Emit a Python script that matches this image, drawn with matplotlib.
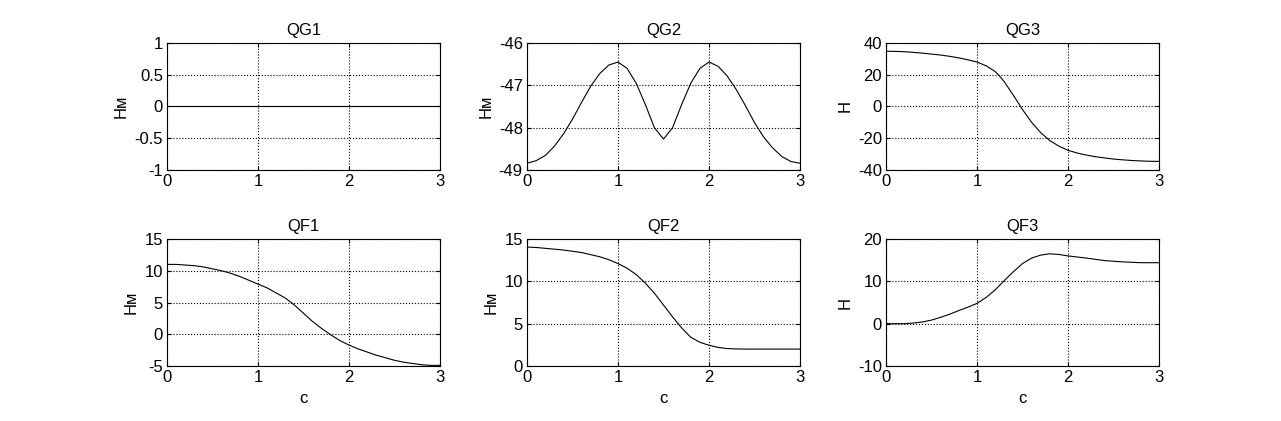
import numpy as np
import matplotlib.pyplot as plt

plt.rcParams['font.family'] = ['Liberation Sans', 'DejaVu Sans']
plt.rcParams['font.size'] = 12
plt.rcParams['axes.unicode_minus'] = False

# время, с
t_g1 = [0, 3]
qg1 = [0, 0]

t_g2 = [0.0, 0.1, 0.2, 0.3, 0.4, 0.5, 0.6, 0.7, 0.8, 0.9, 1.0, 1.1, 1.2, 1.3, 1.4, 1.5,
        1.6, 1.7, 1.8, 1.9, 2.0, 2.1, 2.2, 2.3, 2.4, 2.5, 2.6, 2.7, 2.8, 2.9, 3.0]
qg2 = [-48.84, -48.78, -48.66, -48.44, -48.15, -47.80, -47.40, -47.02, -46.72, -46.52,
       -46.45, -46.60, -46.95, -47.45, -48.00, -48.27, -48.00, -47.45, -46.95, -46.60,
       -46.45, -46.55, -46.78, -47.10, -47.48, -47.88, -48.22, -48.48, -48.68, -48.80, -48.84]

t_g3 = [0.0, 0.1, 0.2, 0.3, 0.4, 0.5, 0.6, 0.7, 0.8, 0.9, 1.0, 1.1, 1.2, 1.25, 1.3, 1.4,
        1.5, 1.6, 1.7, 1.8, 1.9, 2.0, 2.1, 2.2, 2.3, 2.4, 2.5, 2.6, 2.7, 2.8, 2.9, 3.0]
qg3 = [34.8, 34.7, 34.5, 34.1, 33.6, 33.0, 32.4, 31.6, 30.6, 29.4, 28.0, 25.6, 22.0,
       19.0, 15.5, 7.0, -2.0, -10.0, -16.5, -21.5, -25.0, -27.6, -29.3, -30.6, -31.6,
       -32.4, -33.1, -33.6, -34.0, -34.3, -34.5, -34.6]

t_f1 = [0.0, 0.1, 0.2, 0.3, 0.4, 0.5, 0.6, 0.7, 0.8, 0.9, 1.0, 1.1, 1.2, 1.3, 1.4, 1.5,
        1.6, 1.7, 1.8, 1.9, 2.0, 2.1, 2.2, 2.3, 2.4, 2.5, 2.6, 2.7, 2.8, 2.9, 3.0]
qf1 = [11.0, 11.0, 10.9, 10.8, 10.6, 10.3, 10.0, 9.6, 9.1, 8.5, 7.9, 7.3, 6.5, 5.7, 4.6,
       3.3, 2.0, 0.9, -0.1, -1.0, -1.7, -2.3, -2.8, -3.3, -3.7, -4.1, -4.4, -4.6, -4.8,
       -4.9, -4.9]

t_f2 = [0.0, 0.1, 0.2, 0.3, 0.4, 0.5, 0.6, 0.7, 0.8, 0.9, 1.0, 1.1, 1.2, 1.3, 1.4, 1.5,
        1.6, 1.7, 1.8, 1.9, 2.0, 2.1, 2.2, 2.3, 2.4, 2.6, 3.0]
qf2 = [14.05, 14.0, 13.9, 13.8, 13.7, 13.55, 13.4, 13.15, 12.9, 12.55, 12.1, 11.55, 10.8,
       9.8, 8.6, 7.2, 5.8, 4.5, 3.4, 2.8, 2.45, 2.2, 2.06, 2.02, 2.0, 2.0, 2.0]

t_f3 = [0.0, 0.1, 0.2, 0.3, 0.4, 0.5, 0.6, 0.7, 0.8, 0.9, 1.0, 1.1, 1.2, 1.3, 1.4, 1.5,
        1.6, 1.7, 1.8, 1.9, 2.0, 2.1, 2.2, 2.3, 2.4, 2.5, 2.6, 2.7, 2.8, 2.9, 3.0]
qf3 = [0.0, 0.0, 0.0, 0.15, 0.4, 0.85, 1.5, 2.25, 3.1, 3.9, 4.8, 6.2, 8.0, 10.2, 12.3,
       14.2, 15.5, 16.2, 16.5, 16.35, 16.0, 15.75, 15.5, 15.2, 14.9, 14.75, 14.6, 14.5,
       14.4, 14.4, 14.4]

panels = [
    ('QG1', t_g1, qg1, 'Нм', (-1, 1), [-1, -0.5, 0, 0.5, 1], ['-1', '-0.5', '0', '0.5', '1']),
    ('QG2', t_g2, qg2, 'Нм', (-49, -46), [-49, -48, -47, -46], None),
    ('QG3', t_g3, qg3, 'Н', (-40, 40), [-40, -20, 0, 20, 40], None),
    ('QF1', t_f1, qf1, 'Нм', (-5, 15), [-5, 0, 5, 10, 15], None),
    ('QF2', t_f2, qf2, 'Нм', (0, 15), [0, 5, 10, 15], None),
    ('QF3', t_f3, qf3, 'Н', (-10, 20), [-10, 0, 10, 20], None),
]

fig = plt.figure(figsize=(12.81, 4.21), dpi=100)
lefts = [0.1304, 0.4114, 0.6917]
bottoms = [0.5962, 0.1306]
w, h = 0.2131, 0.3017

for i, (title, t, q, ylab, ylim, yt, ytl) in enumerate(panels):
    ax = fig.add_axes([lefts[i % 3], bottoms[i // 3], w, h])
    ax.plot(t, q, color='k', lw=0.8)
    ax.set_xlim(0, 3)
    ax.set_ylim(*ylim)
    ax.set_xticks([0, 1, 2, 3])
    ax.set_yticks(yt)
    if ytl:
        ax.set_yticklabels(ytl)
    ax.grid(True, color='k', linestyle=':', linewidth=0.8)
    ax.tick_params(direction='in', top=True, right=True, length=3, labelsize=12, pad=3)
    for s in ax.spines.values():
        s.set_linewidth(0.8)
    ax.set_title(title, fontsize=12)
    ax.set_ylabel(ylab, fontsize=12)
    if i >= 3:
        ax.set_xlabel('с', fontsize=12)

fig.savefig('out.png', dpi=100)
